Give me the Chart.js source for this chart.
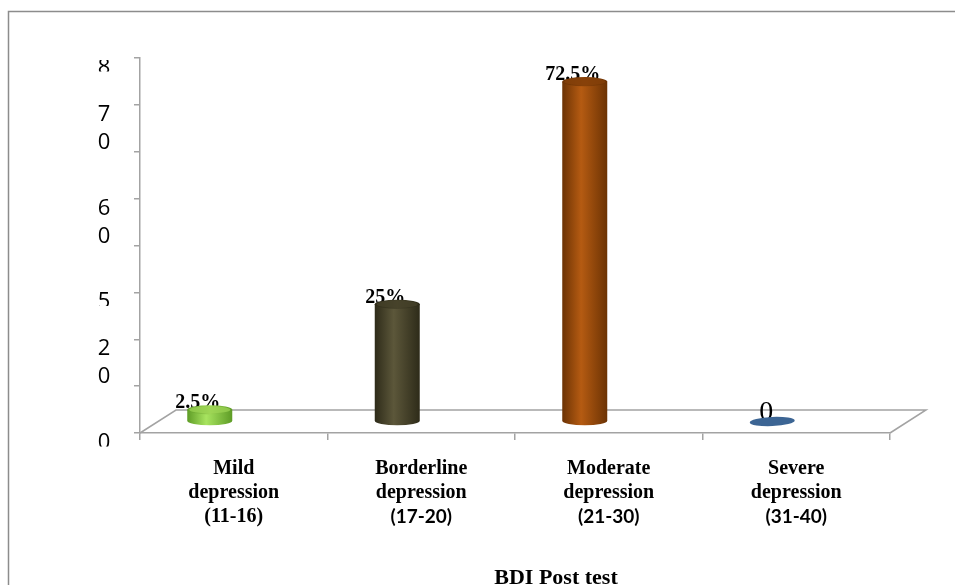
<!DOCTYPE html>
<html>
<head>
<meta charset="utf-8">
<script src="https://cdn.jsdelivr.net/npm/chart.js@4/dist/chart.umd.min.js"></script>
<style>
  html, body { margin: 0; padding: 0; background: #ffffff; }
  #wrap { width: 955px; height: 585px; position: relative; }
</style>
</head>
<body>
<div id="wrap"><canvas id="chart" width="955" height="585"></canvas></div>
<script>
// Categories (multi-line labels) and percentages
const categoryLines = [
  ['Mild', 'depression', '(11-16)'],
  ['Borderline', 'depression', '(17-20)'],
  ['Moderate', 'depression', '(21-30)'],
  ['Severe', 'depression', '(31-40)']
];
const percentages = [2.5, 25, 72.5, 0];

// Y axis tick values and the text shown beside each tick
const yTickValues = [0, 10, 20, 30, 40, 50, 60, 70, 80];
const yTickText = [['0'], [], ['2', '0'], ['5'], [], ['6', '0'], [], ['7', '0'], ['8']];

const axisTitle = 'BDI Post test';

// Cylinder colours: [edge, highlight, top cap]
const cylinderColors = [
  ['#5E9C26', '#A8E460', '#9ED656'],
  ['#2E2B19', '#5C573A', '#47432B'],
  ['#6C3304', '#B55B12', '#88420A'],
  ['#3C6594', '#3C6594', '#3C6594']
];

const GRID = '#A3A3A3';
const SERIF = '"Liberation Serif", "Times New Roman", serif';
const SANS = '"Open Sans", "Noto Sans", sans-serif';
const SANS_BOLD = 'Lato, "Open Sans", sans-serif';

// floor depth and cylinder placement relative to category centres
const FLOOR_DX = 36, FLOOR_DY = -23;
const BAR_DX = -24, BAR_DY = -11.5;
const CAP_RY = 4.6;

const valueLabel = v => (v === 0 ? '0' : v + '%');

const framePlugin = {
  id: 'frame',
  beforeDraw(chart) {
    const c = chart.ctx;
    c.save();
    c.strokeStyle = '#8C8C8C';
    c.lineWidth = 1.5;
    c.beginPath();
    c.moveTo(8.5, 600);
    c.lineTo(8.5, 11.5);
    c.lineTo(960, 11.5);
    c.stroke();
    c.restore();
  }
};

const floorPlugin = {
  id: 'floor',
  beforeDatasetsDraw(chart) {
    const { left, right, bottom } = chart.chartArea;
    const c = chart.ctx;
    c.save();
    c.strokeStyle = GRID;
    c.lineWidth = 1.5;
    c.beginPath();
    c.moveTo(left, bottom);
    c.lineTo(left + FLOOR_DX, bottom + FLOOR_DY);
    c.lineTo(right + FLOOR_DX, bottom + FLOOR_DY);
    c.lineTo(right, bottom);
    c.stroke();
    c.restore();
  }
};

const cylinderPlugin = {
  id: 'cylinders',
  afterDatasetsDraw(chart) {
    const c = chart.ctx;
    const meta = chart.getDatasetMeta(0);
    const items = meta.data.map((bar, i) => {
      const p = bar.getProps(['x', 'y', 'base', 'width'], true);
      return { i, cx: p.x + BAR_DX, top: p.y + BAR_DY, base: p.base + BAR_DY, rx: p.width / 2 };
    });

    // value labels sit behind the cylinder caps
    items.forEach(({ i, cx, top }) => {
      const v = percentages[i];
      c.save();
      c.fillStyle = '#000';
      c.textAlign = 'center';
      c.textBaseline = 'alphabetic';
      if (v === 0) {
        c.font = '28px ' + SERIF;
        c.fillText(valueLabel(v), cx - 6, top - 1.5);
      } else {
        c.font = 'bold 20px ' + SERIF;
        c.fillText(valueLabel(v), cx - 12, top - 1.5);
      }
      c.restore();
    });

    items.forEach(({ i, cx, top, base, rx }) => {
      const [edge, light, cap] = cylinderColors[i];
      c.save();
      if (base - top < 0.5) {
        c.fillStyle = cap;
        c.beginPath();
        c.ellipse(cx, base, rx, CAP_RY, -0.04, 0, Math.PI * 2);
        c.fill();
        c.restore();
        return;
      }
      const g = c.createLinearGradient(cx - rx, 0, cx + rx, 0);
      g.addColorStop(0, edge);
      g.addColorStop(0.42, light);
      g.addColorStop(1, edge);
      c.fillStyle = g;
      c.beginPath();
      c.moveTo(cx - rx, top);
      c.lineTo(cx - rx, base);
      c.ellipse(cx, base, rx, CAP_RY, 0, Math.PI, 0, true);
      c.lineTo(cx + rx, top);
      c.closePath();
      c.fill();

      const gc = c.createLinearGradient(cx - rx, 0, cx + rx, 0);
      gc.addColorStop(0, edge);
      gc.addColorStop(0.5, cap);
      gc.addColorStop(1, edge);
      c.fillStyle = gc;
      c.beginPath();
      c.ellipse(cx, top, rx, CAP_RY, 0, 0, Math.PI * 2);
      c.fill();
      c.fillStyle = cap;
      c.globalAlpha = 0.7;
      c.beginPath();
      c.ellipse(cx, top, rx - 2, CAP_RY - 1, 0, 0, Math.PI * 2);
      c.fill();
      c.restore();
    });
  }
};

const axisTextPlugin = {
  id: 'axisText',
  afterDraw(chart) {
    const c = chart.ctx;
    const xs = chart.scales.x, ys = chart.scales.y;
    const area = chart.chartArea;

    // y tick text, first line's top level with its tick
    c.save();
    c.beginPath();
    c.rect(0, area.top + 2, area.left, 600);
    c.clip();
    c.font = '22px ' + SANS;
    c.fillStyle = '#000';
    c.textAlign = 'center';
    c.textBaseline = 'alphabetic';
    yTickValues.forEach((v, k) => {
      const lines = yTickText[k];
      if (!lines.length) return;
      const py = ys.getPixelForValue(v);
      c.save();
      if (lines.length === 1) {
        c.beginPath();
        c.rect(0, py - 20, area.left, 33.5);
        c.clip();
      }
      lines.forEach((t, j) => c.fillText(t, area.left - 36, py + 16 + j * 28));
      c.restore();
    });
    c.restore();

    // category labels
    c.save();
    c.fillStyle = '#000';
    c.textAlign = 'center';
    c.textBaseline = 'middle';
    categoryLines.forEach((lines, i) => {
      const px = xs.getPixelForValue(i);
      lines.forEach((t, j) => {
        const sans = j === 2 && i > 0;
        c.font = sans ? 'bold 19px ' + SANS_BOLD : 'bold 20px ' + SERIF;
        c.fillText(t, px, area.bottom + 36 + j * 24);
      });
    });

    // axis title
    c.font = 'bold 22px ' + SERIF;
    c.textBaseline = 'alphabetic';
    c.fillText(axisTitle, (area.left + area.right) / 2 + 41, 584);
    c.restore();
  }
};

new Chart(document.getElementById('chart'), {
  type: 'bar',
  data: {
    labels: categoryLines.map(l => l.join(' ')),
    datasets: [{
      data: percentages,
      backgroundColor: 'rgba(0,0,0,0)',
      borderWidth: 0,
      barPercentage: 0.24,
      categoryPercentage: 1
    }]
  },
  options: {
    responsive: false,
    animation: false,
    devicePixelRatio: 1,
    layout: { padding: { left: 140, right: 65, top: 58, bottom: 152 } },
    plugins: { legend: { display: false }, tooltip: { enabled: false }, title: { display: false } },
    scales: {
      x: {
        grid: { display: true, drawOnChartArea: false, drawTicks: true, tickLength: 7, color: GRID, lineWidth: 1.5, offset: true },
        border: { display: true, color: GRID, width: 1.5 },
        ticks: { display: false },
        afterFit(s) { s.height = 0; }
      },
      y: {
        min: 0,
        max: 80,
        ticks: { display: false, stepSize: 10 },
        grid: { display: true, drawOnChartArea: false, drawTicks: true, tickLength: 6, color: GRID, lineWidth: 1.5 },
        border: { display: true, color: GRID, width: 1.5 },
        afterFit(s) { s.width = 0; }
      }
    }
  },
  plugins: [framePlugin, floorPlugin, cylinderPlugin, axisTextPlugin]
});
</script>
</body>
</html>
